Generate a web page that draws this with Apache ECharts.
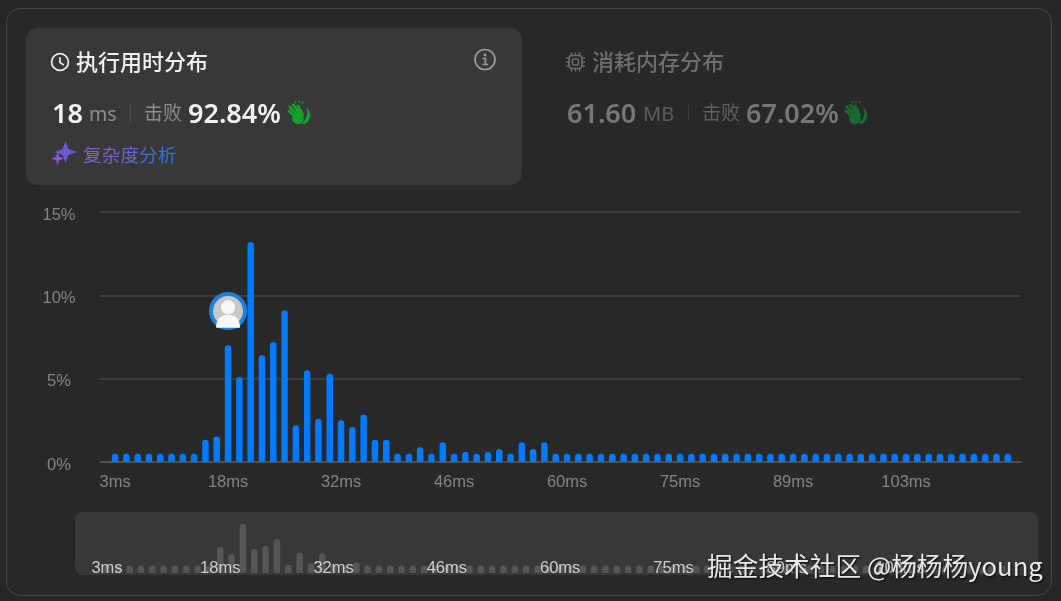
<!DOCTYPE html>
<html><head><meta charset="utf-8">
<style>html,body{margin:0;padding:0;background:#262626;overflow:hidden}#c{width:1061px;height:601px}</style>
<script src="https://cdn.jsdelivr.net/npm/echarts@6/dist/echarts.min.js"></script>
</head><body><div id="c"></div>
<script>
const categories = ["3ms","4ms","6ms","7ms","9ms","10ms","12ms","13ms","14ms","16ms",
"18ms","19ms","20ms","22ms","23ms","25ms","26ms","27ms","29ms","30ms",
"32ms","33ms","35ms","36ms","37ms","39ms","40ms","42ms","43ms","45ms",
"46ms","47ms","49ms","50ms","52ms","53ms","55ms","56ms","57ms","59ms",
"60ms","62ms","63ms","65ms","66ms","67ms","69ms","70ms","72ms","73ms",
"75ms","76ms","77ms","79ms","80ms","82ms","83ms","85ms","86ms","88ms",
"89ms","90ms","92ms","93ms","95ms","96ms","98ms","99ms","100ms","102ms",
"103ms","105ms","106ms","108ms","109ms","110ms","112ms","113ms","115ms","116ms"];
const runtimePercent = [0.5,0.5,0.5,0.5,0.5,0.5,0.5,0.5,1.33,1.53,
7.0,5.1,13.2,6.4,7.2,9.1,2.2,5.5,2.6,5.3,
2.5,2.1,2.85,1.33,1.33,0.5,0.5,0.88,0.5,1.18,
0.5,0.6,0.5,0.6,0.78,0.5,1.18,0.78,1.18,0.5,
0.5,0.5,0.5,0.5,0.5,0.5,0.5,0.5,0.5,0.5,
0.5,0.5,0.5,0.5,0.5,0.5,0.5,0.5,0.5,0.5,
0.5,0.5,0.5,0.5,0.5,0.5,0.5,0.5,0.5,0.5,
0.5,0.5,0.5,0.5,0.5,0.5,0.5,0.5,0.5,0.5];
const yTicks = [0,5,10,15];
const myBinLabel = "18ms";
const myBinMarkerY = 9.06;
const linkChars = ['复','杂','度','分','析'];
const linkColors = ['#8a5cc8','#7a60cc','#6466d0','#4a6cd4','#2f72d8'];

const CJK = '"Noto Sans CJK SC","Noto Sans",sans-serif';
const NUM = '"Noto Sans","Noto Sans CJK SC",sans-serif';
const LAT = '"Liberation Sans",Arial,sans-serif';
const ch = echarts.init(document.getElementById('c'));

function txt(x,y,text,fill,size,weight,font,extra){
  return {type:'text',z:10,style:Object.assign({x,y,text,fill,font:(weight||'normal')+' '+size+'px '+(font||CJK),textVerticalAlign:'middle',textAlign:'left'},extra||{})};
}
function clap(cx,cy,color){
  const fingers=[[-10,-2,-1,6],[-9,-6,0,4],[-5.5,-8,2,3],[-1,-7,3.5,2]];
  const kids=[{type:'circle',shape:{cx:-1,cy:5.5,r:5.8},style:{fill:color}},
    {type:'polygon',shape:{points:[[7,-6],[10.5,-2],[11.5,3],[9.5,8],[6,11],[3,11],[7,5],[8.5,0]]},style:{fill:color}}];
  fingers.forEach(f=>{
    kids.push({type:'line',shape:{x1:f[0],y1:f[1],x2:f[2],y2:f[3]},style:{stroke:color,lineWidth:3,lineCap:'round'}});
  });
  [[-4,-12,-3,-9.5],[0,-12.5,0,-10],[4,-11.5,3,-9.5]].forEach(f=>{
    kids.push({type:'line',shape:{x1:f[0],y1:f[1],x2:f[2],y2:f[3]},style:{stroke:color,lineWidth:1.2}});
  });
  return {type:'group',x:cx,y:cy,z:10,children:kids};
}
function clock(cx,cy){
  return {type:'group',x:cx,y:cy,z:10,children:[
    {type:'circle',shape:{cx:0,cy:0,r:8.4},style:{fill:'none',stroke:'#f0f0f0',lineWidth:1.7}},
    {type:'polyline',shape:{points:[[0,-4.8],[0,0.6],[3.8,3]]},style:{fill:'none',stroke:'#f0f0f0',lineWidth:1.7}}
  ]};
}
function chip(cx,cy,c){
  const kids=[{type:'rect',shape:{x:-6.5,y:-6.5,width:13,height:13,r:3},style:{fill:'none',stroke:c,lineWidth:1.7}},
    {type:'rect',shape:{x:-3,y:-3,width:6,height:6,r:1},style:{fill:'none',stroke:c,lineWidth:1.5}}];
  [-4,0,4].forEach(d=>{
    kids.push({type:'line',shape:{x1:d,y1:-9.5,x2:d,y2:-7},style:{stroke:c,lineWidth:1.4}});
    kids.push({type:'line',shape:{x1:d,y1:7,x2:d,y2:9.5},style:{stroke:c,lineWidth:1.4}});
    kids.push({type:'line',shape:{x1:-9.5,y1:d,x2:-7,y2:d},style:{stroke:c,lineWidth:1.4}});
    kids.push({type:'line',shape:{x1:7,y1:d,x2:9.5,y2:d},style:{stroke:c,lineWidth:1.4}});
  });
  return {type:'group',x:cx,y:cy,z:10,children:kids};
}
function star(cx,cy,r,c){
  const k=r*0.27;
  return {type:'polygon',z:10,shape:{points:[[cx,cy-r],[cx+k,cy-k],[cx+r,cy],[cx+k,cy+k],[cx,cy+r],[cx-k,cy+k],[cx-r,cy],[cx-k,cy-k]]},style:{fill:c}};
}

const graphic=[
  {type:'rect',z:-10,shape:{x:6.5,y:8.5,width:1045,height:587,r:14},style:{fill:'#282828',stroke:'#464646',lineWidth:1}},
  {type:'rect',z:-9,shape:{x:26,y:28,width:496,height:157,r:12},style:{fill:'#383838'}},
  {type:'rect',z:-9,shape:{x:75,y:512,width:963,height:63,r:8},style:{fill:'#383838'}},
  clock(60,62),
  txt(76,62,'执行用时分布','#f0f0f0',22,'500'),
  {type:'group',x:485,y:59.5,z:10,children:[
    {type:'circle',shape:{cx:0,cy:0,r:10},style:{fill:'none',stroke:'#9a9a9a',lineWidth:1.7}},
    {type:'circle',shape:{cx:0,cy:-4.5,r:1.4},style:{fill:'#9a9a9a'}},
    {type:'polyline',shape:{points:[[-2.5,-1],[0.4,-1],[0.4,5],[-2.5,5],[3,5]]},style:{fill:'none',stroke:'#9a9a9a',lineWidth:1.7}}
  ]},
  txt(52,115,'18','#f2f2f2',27,'600',NUM),
  txt(89,115,'ms','#8e8e8e',19.5,'normal',NUM),
  {type:'line',z:10,shape:{x1:130.5,y1:104,x2:130.5,y2:122},style:{stroke:'#505050',lineWidth:1}},
  txt(144,113,'击败','#8e8e8e',19),
  txt(188,115,'92.84%','#f2f2f2',27,'600',NUM),
  clap(299,113,'#14a02c'),
  star(65.5,152,11,'#6b57d6'),
  star(57.6,158.5,6.5,'#8a55d0'),
  ...linkChars.map((c,i)=>txt(83+i*18.7,154.5,c,linkColors[i],18.7)),

  chip(575.5,62,'#6e6e6e'),
  txt(592,62,'消耗内存分布','#6e6e6e',22,'500'),
  txt(567,115,'61.60','#777777',27,'600',NUM),
  txt(643,115,'MB','#5c5c5c',20,'normal',NUM),
  {type:'line',z:10,shape:{x1:688.5,y1:105,x2:688.5,y2:121},style:{stroke:'#3e3e3e',lineWidth:1}},
  txt(702,113,'击败','#5f5f5f',19),
  txt(746,115,'67.02%','#777777',27,'600',NUM),
  clap(856,113,'#1b6a2e'),

  {type:'text',z:50,style:{x:707,y:566,text:'掘金技术社区 @杨杨杨young',fill:'#e8e8e8',font:'normal 25.7px '+CJK,textVerticalAlign:'middle',textShadowColor:'rgba(0,0,0,0.85)',textShadowBlur:2,textShadowOffsetX:1,textShadowOffsetY:1}}
];

const personHead={name:'head',coord:[myBinLabel,myBinMarkerY+0.22],symbol:'circle',symbolSize:14,itemStyle:{color:'#f8f8f8',borderWidth:0}};
const personBody={name:'body',coord:[myBinLabel,myBinMarkerY-0.62],symbol:'path://M0 10 C0 3 4 0 10 0 C16 0 20 3 20 10 Z',symbolSize:[24,13],itemStyle:{color:'#f8f8f8',borderWidth:0}};
const ring={name:'me',coord:[myBinLabel,myBinMarkerY],symbol:'circle',symbolSize:34,itemStyle:{color:'#c8c8c8',borderColor:'#1f7fdc',borderWidth:4}};

const option={
  backgroundColor:'#262626',
  animation:false,
  graphic,
  grid:[
    {left:100,width:921,top:212,height:250},
    {left:109.4,width:904,top:212,height:250},
    {left:101.3,width:906.4,top:517,height:56}
  ],
  xAxis:[
    {type:'category',gridIndex:0,data:[],axisLine:{show:true,lineStyle:{color:'#555',width:1.5}},axisTick:{show:false},axisLabel:{show:false},splitLine:{show:false}},
    {type:'category',gridIndex:1,data:categories,axisLine:{show:false},axisTick:{show:false},
      axisLabel:{interval:9,color:'#858585',fontSize:16.5,fontFamily:LAT,margin:12,hideOverlap:false}},
    {type:'category',gridIndex:2,data:categories,z:20,axisLine:{show:false},axisTick:{show:false},
      axisLabel:{interval:9,color:'#cfcfcf',fontSize:16.5,fontFamily:LAT,inside:true,margin:-4,hideOverlap:false}}
  ],
  yAxis:[
    {type:'value',gridIndex:0,min:0,max:15,interval:5,
      axisLine:{show:false},axisTick:{show:false},
      axisLabel:{margin:41,align:'center',formatter:v=>yTicks.includes(v)?'{t|'+v+'%}':'',
        rich:{t:{color:'#858585',fontSize:16.5,fontFamily:LAT,padding:[6,0,0,0]}}},
      splitLine:{show:true,lineStyle:{color:'#444',width:1.5}}},
    {type:'value',gridIndex:1,min:0,max:15,interval:5,show:false},
    {type:'value',gridIndex:2,min:0,max:15,interval:5,show:false}
  ],
  series:[
    {type:'bar',xAxisIndex:1,yAxisIndex:1,data:runtimePercent,barWidth:6.5,
      itemStyle:{color:'#007aff',borderRadius:[3,3,0,0]},
      markPoint:{silent:true,label:{show:false},data:[ring,personHead,personBody]}},
    {type:'bar',xAxisIndex:2,yAxisIndex:2,data:runtimePercent,barWidth:6.5,barMinHeight:7.5,
      itemStyle:{color:'#565656',borderRadius:[3,3,0,0]},z:1}
  ]
};
ch.setOption(option);
</script></body></html>
